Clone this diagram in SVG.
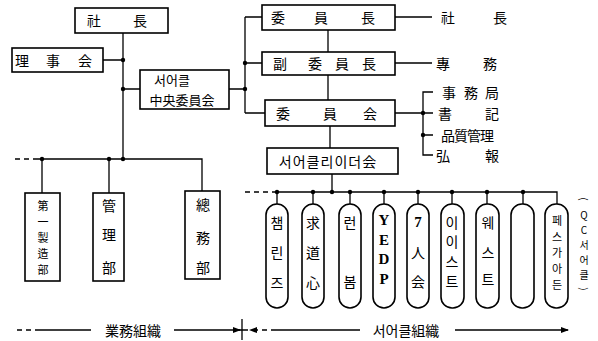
<svg xmlns="http://www.w3.org/2000/svg" width="598" height="341" viewBox="0 0 598 341">
<defs>
<style>
.b{fill:#fff;stroke:#000;stroke-width:1.6}
.l{fill:none;stroke:#000;stroke-width:1.3}
.d{fill:none;stroke:#000;stroke-width:1.3;stroke-dasharray:5 4}
.t{font-family:"Noto Sans CJK KR","Noto Sans CJK SC",sans-serif;font-size:14px;fill:#000;text-anchor:middle;dominant-baseline:central}
.md{font-size:13px}
.sm{font-size:11px}
.xs{font-size:10px}
.s{font-family:"Liberation Serif",serif;font-size:15px;font-weight:bold;fill:#000;text-anchor:middle;dominant-baseline:central}
</style>
<marker id="ar" markerWidth="8" markerHeight="6" refX="7" refY="3" orient="auto" markerUnits="userSpaceOnUse"><path d="M0,0 L8,3 L0,6 Z" fill="#000"/></marker>
</defs>
<rect width="598" height="341" fill="#fff"/>

<g id="connectors">
<path class="l" d="M123,33 V159"/>
<path class="l" d="M103,60 H123 M123,89 H140"/>
<path class="d" d="M15,159 H36"/>
<path class="l" d="M36,159 H202 V191"/>
<path class="l" d="M42,159 V193 M109,159 V193"/>
<path class="l" d="M229,89 H245 M245,17 V113 M245,17 H262 M245,63 H262 M245,113 H265"/>
<path class="l" d="M328,30 V52 M328,75 V100 M330,126 V148 M332,174 V192"/>
<path class="l" d="M395,17 H432 M395,63 H432 M395,113 H423 M433,92 H423 V155 H433 M423,135 H433 M423,113 H433"/>
<path class="d" d="M245,192 H274"/>
<path class="l" d="M274,192 H557 V204"/>
<path class="l" d="M277,192 V204 M313,192 V204 M350,192 V204 M384,192 V204 M418,192 V204 M452,192 V204 M487,192 V204 M523,192 V204"/>
<g fill="#000">
<circle cx="123" cy="60" r="2.2"/><circle cx="123" cy="89" r="2.2"/><circle cx="123" cy="159" r="2.2"/>
<circle cx="42" cy="159" r="2.2"/><circle cx="109" cy="159" r="2.2"/>
<circle cx="245" cy="63" r="2.2"/><circle cx="245" cy="89" r="2.2"/>
<circle cx="423" cy="113" r="2.2"/><circle cx="423" cy="135" r="2.2"/>
<circle cx="277" cy="192" r="2.2"/><circle cx="313" cy="192" r="2.2"/><circle cx="332" cy="192" r="2.2"/><circle cx="350" cy="192" r="2.2"/><circle cx="384" cy="192" r="2.2"/><circle cx="418" cy="192" r="2.2"/><circle cx="452" cy="192" r="2.2"/><circle cx="487" cy="192" r="2.2"/><circle cx="523" cy="192" r="2.2"/>
</g>
</g>

<g id="shacho"><rect class="b" x="75" y="8" width="93" height="25"/><text class="t" x="94" y="20">社</text><text class="t" x="140" y="20">長</text></g>
<g id="rijikai"><rect class="b" x="12" y="48" width="91" height="24"/><text class="t" x="22" y="60">理</text><text class="t" x="53" y="60">事</text><text class="t" x="85" y="60">会</text></g>
<g id="chuo"><rect class="b" x="140" y="70" width="89" height="39"/><text class="t md" x="172" y="79">서어클</text><text class="t md" x="182" y="99">中央委員会</text></g>
<g id="iincho"><rect class="b" x="262" y="5" width="133" height="25"/><text class="t" x="278" y="17">委</text><text class="t" x="321" y="17">員</text><text class="t" x="368" y="17">長</text></g>
<g id="fukuiincho"><rect class="b" x="262" y="52" width="133" height="23"/><text class="t" x="280" y="63">副</text><text class="t" x="315" y="63">委</text><text class="t" x="342" y="63">員</text><text class="t" x="369" y="63">長</text></g>
<g id="iinkai"><rect class="b" x="265" y="100" width="130" height="26"/><text class="t" x="283" y="113">委</text><text class="t" x="330" y="113">員</text><text class="t" x="370" y="113">会</text></g>
<g id="leader"><rect class="b" x="267" y="148" width="131" height="26"/><text class="t" x="328" y="161" letter-spacing="1">서어클리이더会</text></g>

<g id="right-labels">
<text class="t" x="448" y="17">社</text><text class="t" x="500" y="17">長</text>
<text class="t" x="443" y="63">專</text><text class="t" x="490" y="63">務</text>
<text class="t" x="449" y="92">事</text><text class="t" x="471" y="92">務</text><text class="t" x="492" y="92">局</text>
<text class="t" x="445" y="113">書</text><text class="t" x="492" y="113">記</text>
<text class="t" x="467" y="135" letter-spacing="-1">品質管理</text>
<text class="t" x="443" y="155">弘</text><text class="t" x="492" y="155">報</text>
</g>

<g id="dept1"><rect class="b" x="25" y="193" width="35" height="88"/><text class="t sm" x="43" y="205">第</text><text class="t sm" x="43" y="221">一</text><text class="t sm" x="43" y="237">製</text><text class="t sm" x="43" y="253">造</text><text class="t sm" x="43" y="269">部</text></g>
<g id="dept2"><rect class="b" x="93" y="193" width="31" height="88"/><text class="t" x="109" y="205">管</text><text class="t" x="109" y="234">理</text><text class="t" x="109" y="267">部</text></g>
<g id="dept3"><rect class="b" x="185" y="191" width="35" height="88"/><text class="t" x="203" y="204">總</text><text class="t" x="203" y="237">務</text><text class="t" x="203" y="267">部</text></g>

<g id="c1"><rect class="b" x="266" y="204" width="22" height="104" rx="11"/><text class="t" x="277" y="222">챔</text><text class="t" x="277" y="252">린</text><text class="t" x="277" y="282">즈</text></g>
<g id="c2"><rect class="b" x="302" y="204" width="22" height="104" rx="11"/><text class="t" x="313" y="222">求</text><text class="t" x="313" y="252">道</text><text class="t" x="313" y="282">心</text></g>
<g id="c3"><rect class="b" x="339" y="204" width="22" height="104" rx="11"/><text class="t" x="350" y="222">런</text><text class="t" x="350" y="281">봄</text></g>
<g id="c4"><rect class="b" x="373" y="204" width="22" height="104" rx="11"/><text class="s" x="384" y="220">Y</text><text class="s" x="384" y="240">E</text><text class="s" x="384" y="259">D</text><text class="s" x="384" y="279">P</text></g>
<g id="c5"><rect class="b" x="407" y="204" width="22" height="104" rx="11"/><text class="s" x="418" y="222">7</text><text class="t" x="418" y="252">人</text><text class="t" x="418" y="281">会</text></g>
<g id="c6"><rect class="b" x="441" y="204" width="23" height="104" rx="11"/><text class="t" x="452" y="222">이</text><text class="t" x="452" y="241">이</text><text class="t" x="452" y="261">스</text><text class="t" x="452" y="281">트</text></g>
<g id="c7"><rect class="b" x="476" y="204" width="23" height="104" rx="11"/><text class="t" x="488" y="222">웨</text><text class="t" x="488" y="252">스</text><text class="t" x="488" y="279">트</text></g>
<g id="c8"><rect class="b" x="511" y="204" width="23" height="104" rx="11"/></g>
<g id="c9"><rect class="b" x="545" y="204" width="23" height="104" rx="11"/><text class="t sm" x="557" y="220">페</text><text class="t sm" x="557" y="236">스</text><text class="t sm" x="557" y="252">가</text><text class="t sm" x="557" y="268">아</text><text class="t sm" x="557" y="284">든</text></g>
<g id="qc-label"><text class="t xs" x="584" y="199" transform="rotate(90 584 199)">(</text><text class="t xs" x="584" y="214" font-family="Liberation Sans">Q</text><text class="t xs" x="584" y="229" font-family="Liberation Sans">C</text><text class="t xs" x="584" y="244">서</text><text class="t xs" x="584" y="259">어</text><text class="t xs" x="584" y="274">클</text><text class="t xs" x="584" y="289" transform="rotate(90 584 289)">)</text></g>

<g id="legend">
<path class="d" d="M17,330 H38"/>
<path class="l" d="M38,330 H91"/>
<text class="t" x="133" y="330">業務組織</text>
<path class="l" d="M174,330 H240" marker-end="url(#ar)"/>
<path class="l" d="M242,319 V340 M236,330 H248"/>
<path class="d" d="M276,330 H250" marker-end="url(#ar)"/>
<path class="l" d="M276,330 H360"/>
<text class="t" x="406" y="330">서어클組織</text>
<path class="l" d="M455,330 H568" marker-end="url(#ar)"/>
</g>
</svg>
